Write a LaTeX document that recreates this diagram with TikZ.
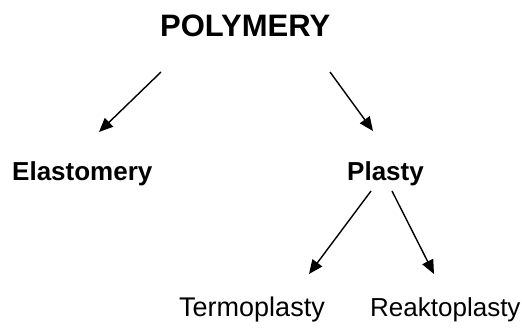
\documentclass[tikz,border=0pt]{standalone}
\usepackage{fontspec}
\setmainfont{Liberation Sans}
\usetikzlibrary{arrows.meta}
\begin{document}
\begin{tikzpicture}[x=1pt,y=-1pt,
  lbl/.style={inner sep=0pt,anchor=base west,font=\fontsize{26}{30}\selectfont},
  blbl/.style={lbl,font=\fontsize{26}{30}\selectfont\bfseries},
  arr/.style={line width=1.4pt,-{Triangle[length=14pt,width=12pt]}}]
\useasboundingbox (0,0) rectangle (522,329);
\node[blbl,font=\fontsize{31}{36}\selectfont\bfseries] (poly) at (160,37) {POLYMERY};
\node[blbl] (elast) at (12,180) {Elastomery};
\node[blbl] (plasty) at (347,180) {Plasty};
\node[lbl,font=\fontsize{27}{31}\selectfont] (termo) at (179,316) {Termoplasty};
\node[lbl] (reakto) at (370,316) {Reaktoplasty};
\coordinate (p1) at (161,72);
\coordinate (e1) at (99,132);
\coordinate (p2) at (330,72);
\coordinate (e2) at (373,131);
\coordinate (p3) at (371,191);
\coordinate (e3) at (309,274);
\coordinate (p4) at (392,191);
\coordinate (e4) at (434,274);
\draw[arr] (p1) -- (e1);
\draw[arr] (p2) -- (e2);
\draw[arr] (p3) -- (e3);
\draw[arr] (p4) -- (e4);
\end{tikzpicture}
\end{document}
